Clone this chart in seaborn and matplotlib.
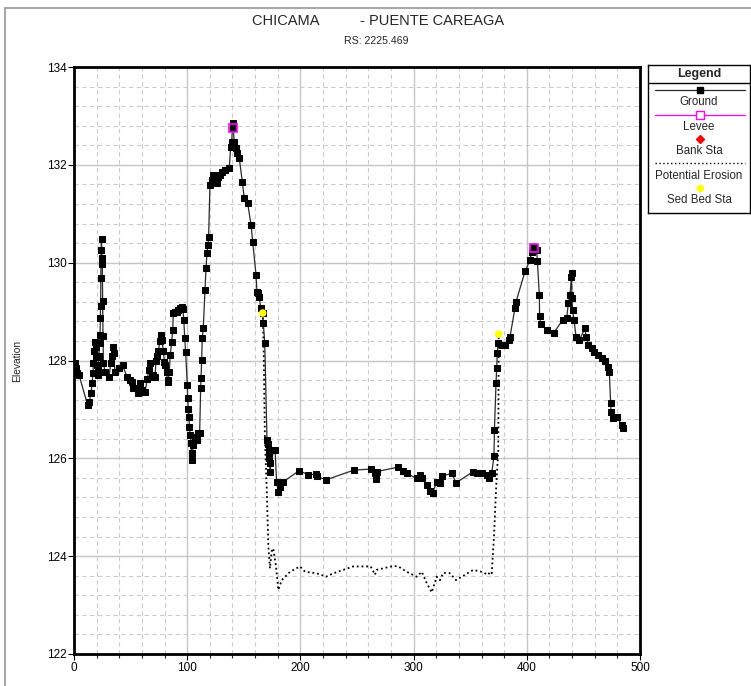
import matplotlib
matplotlib.use("Agg")
import matplotlib.pyplot as plt
from matplotlib.patches import Rectangle
from matplotlib.ticker import MultipleLocator
import seaborn as sns

# Cross-section: station (m) and ground elevation (m)
ground_station = [
    0.5, 1.5, 2.5, 4.5, 12.0, 13.5, 15.0, 16.0, 16.8, 17.2, 17.8, 18.5, 19.2, 19.8,
    20.3, 20.8, 21.4, 22.0, 22.6, 23.0, 23.3, 23.5, 23.7, 23.9, 24.3, 24.7, 25.0,
    25.3, 25.6, 26.0, 27.4, 31.0, 32.4, 33.3, 34.2, 35.0, 36.2, 40.0, 43.0, 47.0,
    49.5, 51.0, 52.4, 54.0, 56.8, 58.3, 59.8, 62.7, 64.8, 66.0, 67.1, 68.6, 70.0,
    71.6, 72.4, 73.5, 74.5, 76.0, 76.6, 77.5, 79.0, 79.8, 80.4, 81.9, 82.6, 83.3,
    84.2, 85.0, 86.3, 87.2, 87.7, 89.0, 90.7, 92.1, 93.6, 95.1, 96.2, 97.0, 97.8,
    98.6, 100.1, 100.4, 101.0, 101.6, 102.0, 102.5, 103.4, 104.0, 104.6, 105.4,
    106.9, 108.4, 109.8, 111.0, 111.9, 112.2, 112.8, 113.3, 114.2, 115.7, 116.6,
    117.5, 118.3, 118.9, 120.1, 121.5, 122.5, 123.6, 124.6, 126.0, 127.5, 129.0,
    130.5, 133.4, 137.2, 138.4, 139.3, 140.2, 140.7, 141.5, 143.1, 144.3, 146.0,
    148.7, 150.4, 153.4, 156.4, 157.9, 160.8, 161.6, 162.4, 163.7, 164.9, 166.7,
    167.2, 168.5, 170.5, 171.2, 171.9, 172.5, 172.8, 173.1, 176.1, 177.6, 179.0,
    180.5, 182.0, 184.9, 199.0, 207.0, 213.8, 214.9, 222.6, 247.3, 262.1, 265.9,
    266.5, 267.4, 286.5, 290.9, 293.9, 302.7, 305.7, 307.2, 311.6, 314.5, 316.8,
    320.4, 323.3, 324.8, 333.7, 337.5, 352.7, 355.7, 360.1, 364.6, 366.9, 369.0,
    371.0, 371.4, 372.8, 373.4, 373.9, 374.8, 377.8, 380.7, 384.6, 385.2, 389.6,
    390.5, 398.4, 402.8, 404.3, 405.7, 406.4, 408.7, 409.3, 411.1, 411.3, 412.3,
    417.6, 424.0, 431.7, 435.2, 436.7, 438.2, 439.3, 439.6, 439.9, 440.5, 441.7,
    443.5, 446.4, 451.4, 452.3, 454.3, 457.3, 459.4, 463.2, 466.2, 469.1, 472.0,
    472.9, 474.1, 474.4, 476.4, 479.4, 483.8, 484.7,
]
ground_elev = [
    127.95, 127.85, 127.75, 127.70, 127.09, 127.15, 127.33, 127.54, 127.75, 127.95,
    128.20, 128.38, 128.28, 128.07, 127.90, 127.70, 127.85, 128.10, 128.36, 128.52,
    128.87, 129.11, 129.69, 130.26, 130.48, 130.10, 129.97, 129.22, 128.50, 127.95,
    127.77, 127.66, 127.95, 128.10, 128.28, 128.15, 127.77, 127.85, 127.90, 127.66,
    127.60, 127.56, 127.44, 127.44, 127.34, 127.54, 127.40, 127.36, 127.62, 127.80,
    127.95, 127.66, 127.70, 127.66, 128.00, 128.10, 128.20, 128.40, 128.52, 128.42,
    128.20, 127.97, 127.90, 127.77, 127.56, 127.60, 127.77, 128.11, 128.38, 128.62,
    128.97, 128.99, 129.00, 129.03, 129.07, 129.09, 129.05, 128.83, 128.46, 128.17,
    127.50, 127.23, 127.00, 126.85, 126.64, 126.48, 126.31, 125.97, 126.10, 126.27,
    126.44, 126.38, 126.52, 126.52, 127.44, 127.64, 128.01, 128.46, 128.66, 129.44,
    129.89, 130.20, 130.36, 130.52, 131.59, 131.70, 131.79, 131.72, 131.69, 131.63,
    131.75, 131.80, 131.85, 131.89, 131.94, 132.37, 132.47, 132.86, 132.75, 132.47,
    132.34, 132.24, 132.14, 131.65, 131.32, 131.22, 130.77, 130.42, 129.75, 129.40,
    129.38, 129.30, 129.07, 128.97, 128.77, 128.36, 126.37, 126.30, 126.15, 126.00,
    125.90, 125.73, 126.17, 126.17, 125.52, 125.32, 125.42, 125.52, 125.75, 125.66,
    125.68, 125.63, 125.56, 125.76, 125.78, 125.69, 125.57, 125.73, 125.82, 125.75,
    125.69, 125.59, 125.66, 125.59, 125.45, 125.34, 125.29, 125.52, 125.50, 125.64,
    125.69, 125.50, 125.73, 125.69, 125.69, 125.66, 125.59, 125.69, 126.05, 126.58,
    127.53, 127.84, 128.15, 128.35, 128.32, 128.32, 128.42, 128.49, 129.07, 129.20,
    129.82, 130.05, 130.22, 130.33, 130.29, 130.26, 130.04, 129.34, 128.91, 128.75,
    128.62, 128.57, 128.83, 128.86, 129.17, 129.34, 129.71, 129.78, 129.27, 129.03,
    128.83, 128.49, 128.42, 128.66, 128.49, 128.32, 128.25, 128.18, 128.11, 128.05,
    127.98, 127.87, 127.77, 127.13, 126.95, 126.82, 126.85, 126.68, 126.63,
]

# Potential erosion (scour) profile between the sediment bed stations
erosion_station = [
    166.7, 167.5, 168.7, 170.2, 171.7, 173.1, 174.6, 176.0, 178.4, 180.5, 183.5,
    190.8, 199.6, 204.1, 214.4, 222.6, 229.1, 246.7, 262.1, 265.9, 267.4, 282.1,
    286.5, 293.9, 302.7, 307.2, 311.6, 316.0, 320.4, 323.3, 326.2, 332.2, 337.5,
    352.7, 360.1, 366.0, 367.5, 369.0, 371.0, 372.8, 374.8, 375.2,
]
erosion_elev = [
    128.97, 128.30, 126.37, 125.42, 124.20, 123.75, 124.10, 124.16, 123.80, 123.31,
    123.51, 123.68, 123.79, 123.68, 123.65, 123.58, 123.65, 123.79, 123.79, 123.62,
    123.72, 123.80, 123.79, 123.68, 123.58, 123.68, 123.45, 123.26, 123.58, 123.51,
    123.66, 123.65, 123.51, 123.72, 123.68, 123.62, 123.68, 123.65, 124.40, 125.35,
    126.17, 128.54,
]

levee_station = [140.7, 406.4]
levee_elev = [132.75, 130.29]

sed_bed_station = [166.7, 375.2]
sed_bed_elev = [128.97, 128.54]

title_main = "CHICAMA          - PUENTE CAREAGA"
title_sub = "RS: 2225.469"
legend_labels = ["Ground", "Levee", "Bank Sta", "Potential Erosion", "Sed Bed Sta"]

sns.set_style("white")
plt.rcParams["font.family"] = ["Liberation Sans", "DejaVu Sans"]

W, H = 751, 686
fig = plt.figure(figsize=(W / 100, H / 100), dpi=100)
fig.patch.set_facecolor("white")

# outer window frame
fig.add_artist(Rectangle((5 / W, -0.05), 1.2, (H - 8) / H + 0.05,
                         transform=fig.transFigure, fill=False,
                         edgecolor="#a8a8a8", linewidth=1.5))

ax = fig.add_axes([74 / W, 1 - 654 / H, 566 / W, 587 / H])

sns.lineplot(x=erosion_station, y=erosion_elev, sort=False, estimator=None,
             color="black", linewidth=1.3, linestyle=(0, (1, 1.6)), ax=ax,
             zorder=3)
sns.lineplot(x=ground_station, y=ground_elev, sort=False, estimator=None,
             color="#2a2a2a", linewidth=0.9, marker="s", markersize=5.0,
             markerfacecolor="black", markeredgecolor="black", ax=ax, zorder=4)
sns.lineplot(x=levee_station, y=levee_elev, sort=False, estimator=None,
             linestyle="", marker="s", markersize=5.8, markerfacecolor="none",
             markeredgecolor="#ff00ff", markeredgewidth=1.2, ax=ax, zorder=6)
sns.scatterplot(x=sed_bed_station, y=sed_bed_elev, color="#ffff00", s=30,
                edgecolor="none", ax=ax, zorder=7)

ax.set_xlim(0, 500)
ax.set_ylim(122, 134)
ax.xaxis.set_major_locator(MultipleLocator(100))
ax.xaxis.set_minor_locator(MultipleLocator(20))
ax.yaxis.set_major_locator(MultipleLocator(2))
ax.yaxis.set_minor_locator(MultipleLocator(0.4))

ax.grid(which="major", color="#c6c6c6", linewidth=1.0, linestyle="-", zorder=0)
ax.grid(which="minor", color="#cccccc", linewidth=0.8, linestyle=(0, (4, 3)),
        zorder=0)
ax.set_axisbelow(True)

for s in ax.spines.values():
    s.set_color("black")
    s.set_linewidth(2.0)
    s.set_visible(True)

ax.tick_params(which="major", direction="out", length=4, width=0.8,
               labelsize=8.5, colors="black", pad=1.5,
               bottom=True, left=True)
ax.tick_params(axis="x", which="minor", direction="out", length=3, width=0.8,
               bottom=True)
ax.tick_params(axis="y", which="minor", length=0)

ax.set_xlabel("")
ax.set_ylabel("Elevation", fontsize=7.4)
ax.yaxis.set_label_coords((22 - 74) / 566, 0.5)

fig.text(378 / W, 1 - 21 / H, title_main, ha="center", va="center",
         fontsize=10.5)
fig.text(376 / W, 1 - 41 / H, title_sub, ha="center", va="center",
         fontsize=7.6)

# legend panel, drawn in pixel-like coordinates
lax = fig.add_axes([648 / W, 1 - 213 / H, 102 / W, 148 / H])
lax.set_xlim(648, 750)
lax.set_ylim(213, 65)
lax.set_xticks([])
lax.set_yticks([])
for s in lax.spines.values():
    s.set_color("black")
    s.set_linewidth(1.0)
lax.text(699, 73.5, "Legend", ha="center", va="center", fontsize=9,
         fontweight="bold")
lax.plot([648, 750], [83, 83], color="black", linewidth=1.0)

lax.plot([655, 745], [90, 90], color="#2a2a2a", linewidth=0.9)
lax.plot([700], [90], marker="s", markersize=4.4, color="black")
lax.plot([655, 745], [115, 115], color="#ff00ff", linewidth=0.9)
lax.plot([700], [115], marker="s", markersize=5.2, markerfacecolor="white",
         markeredgecolor="#ff00ff", markeredgewidth=1.0)
lax.plot([700], [139], marker="D", markersize=4.2, color="#ff0000")
lax.plot([655, 745], [163, 163], color="black", linewidth=1.0,
         linestyle=(0, (1, 1.8)))
lax.plot([700], [188], marker="o", markersize=4.4, color="#ffff00")

for label, yy in zip(legend_labels, [102, 127, 151, 176, 200]):
    lax.text(699, yy, label, ha="center", va="center", fontsize=8.3)

fig.savefig("out.png", dpi=100, facecolor="white")
